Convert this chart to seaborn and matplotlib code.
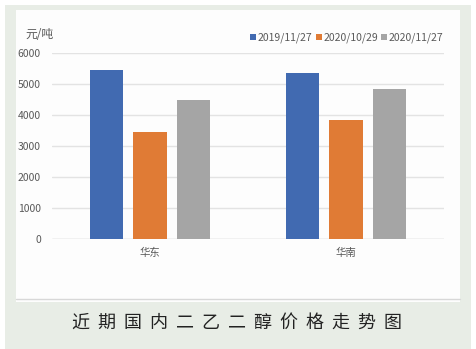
import matplotlib
matplotlib.use("Agg")
import matplotlib.pyplot as plt
from matplotlib.patches import Rectangle
from matplotlib.lines import Line2D
import seaborn as sns
import pandas as pd

regions = ["华东", "华南"]
dates = ["2019/11/27", "2020/10/29", "2020/11/27"]
price_2019_11_27 = [5460, 5350]
price_2020_10_29 = [3460, 3850]
price_2020_11_27 = [4480, 4830]
colors = ["#416AB1", "#E07B35", "#A5A5A5"]
title = "近期国内二乙二醇价格走势图"
unit_label = "元/吨"

rows = []
for d, vals in zip(dates, [price_2019_11_27, price_2020_10_29, price_2020_11_27]):
    for r, v in zip(regions, vals):
        rows.append({"region": r, "date": d, "price": v})
df = pd.DataFrame(rows)

sns.set_theme(style="white")
plt.rcParams["font.family"] = ["Noto Sans CJK SC", "DejaVu Sans"]

W, H = 477, 349
fig = plt.figure(figsize=(W / 100, H / 100), dpi=100, facecolor="white")

def px_rect(x0, y0, x1, y1, z=-5, **kw):
    fig.patches.append(Rectangle((x0 / W, 1 - y1 / H), (x1 - x0) / W, (y1 - y0) / H,
                                 transform=fig.transFigure, zorder=z, **kw))

# page background and chart panel
px_rect(5, 5, 471, 349, facecolor="#E8EDE6", edgecolor="none", z=-10)
px_rect(16, 10, 460, 302, facecolor="#FDFDFD", edgecolor="none", z=-9)
fig.lines.append(Line2D([16 / W, 460 / W], [1 - 299 / H] * 2, transform=fig.transFigure,
                        color="#D8D8D8", lw=1.0, zorder=-8))

ax = fig.add_axes([52 / W, 1 - 239 / H, 392 / W, (239 - 53) / H])
ax.set_zorder(2)
ax.set_facecolor("none")
sns.barplot(data=df, x="region", y="price", hue="date", hue_order=dates, order=regions,
            palette=colors, width=0.665, gap=0.22, ax=ax, legend=False,
            edgecolor="none", saturation=1)

ax.set_ylim(0, 6000)
ax.set_xlim(-0.5, 1.5)
ax.set_yticks(range(0, 6001, 1000))
ax.yaxis.grid(True, color="#E3E3E3", lw=1.0)
ax.set_axisbelow(True)
for s in ax.spines.values():
    s.set_visible(False)
ax.set_xlabel("")
ax.set_ylabel("")
ax.tick_params(axis="y", length=0, pad=8, labelsize=7.5, labelcolor="#595959")
ax.tick_params(axis="x", length=0, pad=6, labelsize=7.5, labelcolor="#595959")
ax.axhline(0, color="#D9D9D9", lw=1.0, zorder=0.5)

# unit label
fig.text(25 / W, 1 - 34 / H, unit_label, fontsize=8.5, color="#595959", va="center", ha="left")

# legend
leg_x = [253, 319, 384]
for x, d, c in zip(leg_x, dates, colors):
    px_rect(x - 3, 34, x + 3, 40, z=3, facecolor=c, edgecolor="none")
    fig.text((x + 5) / W, 1 - 37.5 / H, d, fontsize=7.5, color="#595959", va="center", ha="left")

# caption
fig.text(237 / W, 1 - 323 / H, "  ".join(title), fontsize=13, color="#222222",
         fontweight="medium", va="center", ha="center")

fig.savefig("out.png", dpi=100, facecolor="white")
